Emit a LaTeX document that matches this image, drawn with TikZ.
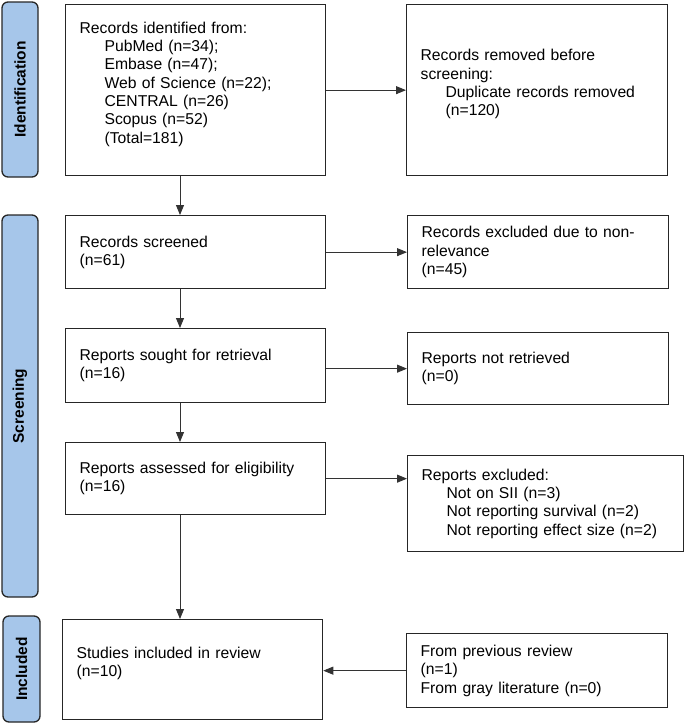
\documentclass[tikz,border=0pt]{standalone}
\usepackage{fontspec}
\setmainfont{Liberation Sans}
\usetikzlibrary{arrows.meta}
\definecolor{barblue}{RGB}{166,198,234}
\begin{document}
\begin{tikzpicture}[x=1pt,y=-1pt,
  box/.style={draw=black!85, line width=1.3pt, rectangle, align=left,
    inner xsep=14pt, inner ysep=0pt, anchor=north west,
    font=\fontsize{15.7}{18.3}\selectfont},
  bar/.style={draw=black!85, line width=1.3pt, fill=barblue, rounded corners=6pt,
    rotate=90, inner sep=0pt, font=\bfseries\fontsize{15.5}{18}\selectfont},
  arr/.style={-{Triangle[length=10pt,width=8pt]}, line width=0.9pt, draw=black!80}]
\useasboundingbox (0,0) rectangle (685,724);
\newcommand{\ind}{\hspace*{25pt}}
% phase bars
\node[bar, minimum width=175, minimum height=36] (idb) at (20,89.5) {Identification};
\node[bar, minimum width=382, minimum height=36] (scb) at (20,406) {Screening};
\node[bar, minimum width=106, minimum height=37] (inb) at (21.5,669) {Included};
% left column
\node[box, minimum width=260, text width=232, minimum height=171] (b1) at (65,4)
  {Records identified from:\\\ind PubMed (n=34);\\\ind Embase (n=47);\\\ind Web of Science (n=22);\\\ind CENTRAL (n=26)\\\ind Scopus (n=52)\\\ind (Total=181)\\[-3pt]\mbox{}};
\node[box, minimum width=260, text width=232, minimum height=73] (b2) at (65,215)
  {Records screened\\(n=61)};
\node[box, minimum width=260, text width=232, minimum height=74] (b3) at (65,328)
  {Reports sought for retrieval\\(n=16)};
\node[box, minimum width=260, text width=232, minimum height=72] (b4) at (65,442)
  {Reports assessed for eligibility\\(n=16)};
\node[box, minimum width=260, text width=232, minimum height=100] (b5) at (62,619)
  {Studies included in review\\(n=10)\\[-3pt]\mbox{}};
% right column
\node[box, minimum width=261, text width=233, minimum height=171] (r1) at (406,4)
  {Records removed before\\screening:\\\ind Duplicate records removed\\\ind (n=120)\\[-3pt]\mbox{}};
\node[box, minimum width=261, text width=233, minimum height=73] (r2) at (407,215)
  {Records excluded due to non-\\relevance\\(n=45)};
\node[box, minimum width=261, text width=233, minimum height=72] (r3) at (407,332)
  {Reports not retrieved\\(n=0)};
\node[box, minimum width=276, text width=248, minimum height=96] (r4) at (407,455)
  {Reports excluded:\\\ind Not on SII (n=3)\\\ind Not reporting survival (n=2)\\\ind Not reporting effect size (n=2)};
\node[box, minimum width=261, text width=233, minimum height=74] (r5) at (406,633)
  {From previous review\\(n=1)\\From gray literature (n=0)};
% connectors
\coordinate (ax) at (180,0);
\draw[arr] (b1.south -| ax) -- (b2.north -| ax);
\draw[arr] (b2.south -| ax) -- (b3.north -| ax);
\draw[arr] (b3.south -| ax) -- (b4.north -| ax);
\draw[arr] (b4.south -| ax) -- (b5.north -| ax);
\draw[arr] (b1.east) -- (b1.east -| r1.west);
\draw[arr] (b2.east) -- (b2.east -| r2.west);
\draw[arr] (r3.west -| b3.east) -- (r3.west);
\draw[arr] (b4.east) -- (b4.east -| r4.west);
\draw[arr] (r5.west) -- (r5.west -| b5.east);
\end{tikzpicture}
\end{document}
